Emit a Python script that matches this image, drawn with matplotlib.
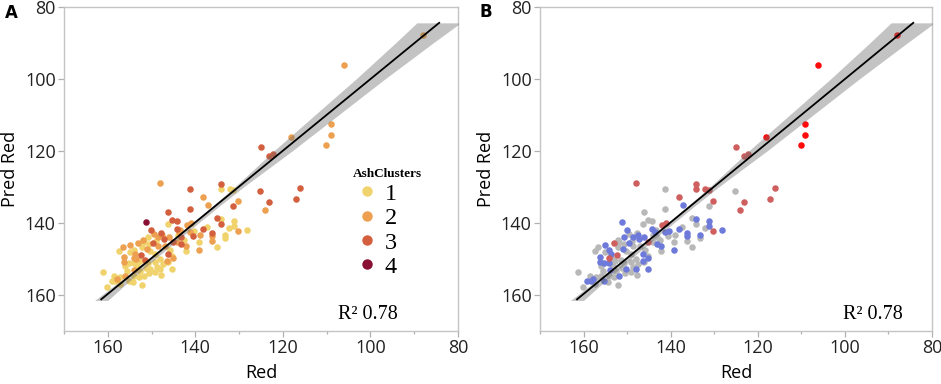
import numpy as np
import matplotlib
matplotlib.use("Agg")
import matplotlib.pyplot as plt
from matplotlib.lines import Line2D

# observed Red vs predicted Red, AshClusters (panel A) and group (panel B)
red = [88.1, 106.1, 109.1, 109.1, 110.1, 118.1, 125.1, 123.1, 122.2, 125.2,
       123.2, 124.1, 116.1, 117.1, 148.0, 141.2, 134.2, 134.2, 132.1, 131.3,
       138.2, 137.1, 130.2, 131.3, 141.2, 146.2, 145.3, 144.3, 146.3, 142.0,
       141.1, 135.1, 134.2, 134.2, 131.2, 131.2, 132.2, 130.2, 128.2, 138.2,
       136.2, 136.2, 133.2, 133.2, 139.2, 136.3, 135.1, 139.2, 140.3, 141.2,
       143.4, 144.3, 143.2, 144.1, 143.2, 142.2, 142.2, 145.2, 151.2, 150.1,
       147.8, 143.7, 149.6, 148.6, 147.6, 147.2, 148.9, 153.1, 151.8, 150.6,
       151.0, 152.2, 154.1, 153.7, 154.1, 152.3, 156.2, 156.2, 155.2, 154.1,
       156.0, 157.4, 146.1, 144.0, 150.3, 149.1, 148.0, 146.4, 145.3, 146.3,
       145.3, 150.3, 148.0, 148.7, 152.6, 151.8, 161.2, 159.1, 158.3, 157.9,
       157.1, 155.2, 152.2, 160.2, 152.9, 154.1, 156.0, 145.1, 146.2, 142.5,
       140.6, 155.0, 153.5, 152.7, 151.5, 150.7, 149.2, 147.5, 155.6, 153.9,
       150.5, 149.2, 147.8, 158.5, 157.3, 154.3, 148.6, 147.0, 145.9, 152.0,
       149.5, 150.8, 155.0, 156.6, 153.3, 151.2, 139.0, 137.4]
pred = [87.8, 96.2, 112.4, 115.5, 118.2, 116.2, 119.0, 121.4, 120.8, 131.2,
        134.2, 136.4, 130.2, 133.2, 129.0, 130.6, 129.3, 130.6, 130.6, 130.7,
        132.8, 134.9, 133.9, 135.4, 136.2, 136.9, 139.1, 139.5, 140.2, 140.5,
        139.9, 138.5, 138.8, 140.4, 139.4, 140.9, 141.3, 142.1, 142.0, 141.7,
        142.9, 143.5, 143.3, 144.2, 145.3, 145.0, 146.8, 147.6, 142.1, 142.4,
        141.9, 141.7, 144.0, 145.4, 145.9, 146.3, 147.7, 145.2, 139.6, 141.9,
        142.9, 142.4, 145.6, 144.0, 143.3, 144.4, 145.0, 145.6, 145.4, 145.8,
        147.2, 146.8, 147.5, 148.6, 149.8, 148.8, 149.5, 150.9, 151.2, 151.2,
        152.0, 147.7, 143.9, 143.3, 147.7, 148.6, 150.0, 150.5, 149.1, 148.6,
        152.8, 152.8, 152.8, 152.3, 153.3, 154.7, 153.7, 156.0, 156.0, 155.6,
        155.1, 156.2, 157.2, 157.7, 155.1, 154.7, 154.7, 149.8, 150.9, 144.6,
        143.6, 148.0, 150.0, 150.6, 150.3, 151.0, 150.8, 151.5, 153.2, 153.0,
        154.0, 153.7, 154.4, 154.6, 157.0, 156.3, 146.4, 146.5, 147.4, 144.6,
        143.0, 143.9, 146.2, 146.8, 152.0, 152.5, 143.2, 141.0]
ash = [2, 2, 2, 2, 2, 2, 3, 3, 3, 3,
       3, 2, 3, 3, 2, 3, 3, 1, 1, 1,
       2, 2, 2, 3, 3, 3, 3, 3, 1, 2,
       2, 3, 1, 3, 1, 1, 1, 2, 1, 3,
       3, 2, 1, 1, 1, 2, 1, 2, 1, 2,
       2, 3, 3, 2, 3, 2, 1, 3, 4, 3,
       3, 2, 3, 2, 2, 3, 1, 2, 1, 1,
       2, 1, 1, 2, 2, 3, 2, 2, 1, 1,
       1, 1, 2, 1, 1, 1, 1, 2, 1, 3,
       1, 1, 1, 1, 1, 1, 1, 1, 1, 2,
       1, 1, 1, 1, 1, 1, 2, 2, 1, 1,
       3, 1, 2, 1, 3, 1, 1, 1, 1, 2,
       1, 1, 1, 1, 1, 1, 2, 2, 1, 2,
       2, 1, 2, 2, 1, 1, 2, 1]
grp = ["R", "R", "R", "R", "R", "R", "r", "r", "r", "g",
       "r", "r", "r", "r", "r", "g", "r", "r", "r", "r",
       "r", "b", "r", "g", "g", "g", "g", "g", "g", "r",
       "r", "g", "b", "g", "b", "b", "g", "r", "b", "b",
       "b", "b", "b", "g", "g", "g", "g", "b", "b", "b",
       "g", "b", "g", "g", "b", "b", "g", "r", "b", "b",
       "g", "b", "b", "b", "b", "b", "g", "r", "g", "g",
       "b", "g", "b", "b", "r", "r", "b", "b", "b", "b",
       "g", "g", "b", "g", "g", "g", "g", "b", "g", "b",
       "b", "b", "b", "g", "g", "b", "g", "b", "b", "b",
       "g", "b", "g", "g", "g", "g", "g", "b", "g", "g",
       "g", "g", "g", "g", "g", "g", "g", "g", "g", "b",
       "g", "g", "g", "g", "g", "g", "g", "g", "g", "g",
       "g", "b", "b", "g", "g", "g", "g", "g"]

# fit line and confidence band (half width in Red units)
fit_red = [161.5, 84.3]
fit_pred = [161.2, 84.4]
band_pred = [161.5, 155, 150, 145, 140, 135, 130, 120, 110, 100, 90, 84.4]
band_half = [1.5, 1.0, 0.8, 0.7, 0.7, 0.8, 1.0, 2.1, 2.7, 3.3, 4.3, 5.0]

ash_colors = {1: "#f0d36c", 2: "#eca050", 3: "#d35f3e", 4: "#8a0f35"}
grp_colors = {"b": "#6e7ad9", "g": "#b8b8b8", "r": "#cf5f5f", "R": "#ff0b0b"}

red = np.array(red)
pred = np.array(pred)
ash = np.array(ash)
grp = np.array(grp)

fig = plt.figure(figsize=(9.41, 3.84), dpi=100)
axA = fig.add_axes([64 / 941, 53 / 384, 394 / 941, 324 / 384])
axB = fig.add_axes([540 / 941, 53 / 384, 392 / 941, 324 / 384])

tick_font = "Open Sans"


def style(ax):
    ax.set_xlim(170, 80)
    ax.set_ylim(170, 80)
    ax.set_xticks([160, 140, 120, 100, 80])
    ax.set_xticks([170, 150, 130, 110, 90], minor=True)
    ax.set_yticks([80, 100, 120, 140, 160])
    for s in ax.spines.values():
        s.set_color("#c4c4c4")
        s.set_linewidth(1.0)
    ax.tick_params(which="major", length=4, width=0.9, color="#b0b0b0",
                   labelsize=13, labelcolor="#222222", pad=2)
    ax.tick_params(which="minor", length=2.5, width=0.9, color="#b0b0b0")
    for lab in ax.get_xticklabels() + ax.get_yticklabels():
        lab.set_fontfamily(tick_font)
    ax.set_xlabel("Red", fontsize=13, family=tick_font, labelpad=5)
    ax.set_ylabel("Pred Red", fontsize=13, family=tick_font, labelpad=4)
    bp = np.array(band_pred)
    bh = np.array(band_half)
    ax.fill_betweenx(bp, bp - bh, bp + bh, color="#6b6b6b", alpha=0.4,
                     lw=0, zorder=3)
    ax.plot(fit_red, fit_pred, color="black", lw=1.3, zorder=4)
    ax.text(0.695, 0.05, "R\u00b2 0.78", transform=ax.transAxes,
            fontsize=14.5, family="Liberation Serif", va="center")


for c in [1, 2, 3, 4]:
    m = ash == c
    axA.scatter(red[m], pred[m], s=22, color=ash_colors[c], lw=0,
                zorder=2, label=str(c))
for g in ["g", "b", "r", "R"]:
    m = grp == g
    axB.scatter(red[m], pred[m], s=22, color=grp_colors[g], lw=0, zorder=2)

style(axA)
style(axB)
axB.texts[0].set_x(0.773)

handles = [Line2D([], [], ls="", marker="o", ms=7.5, mec="none",
                  color=ash_colors[c]) for c in [1, 2, 3, 4]]
leg = axA.legend(handles, ["1", "2", "3", "4"], title="AshClusters",
                 loc="upper left", bbox_to_anchor=(0.69, 0.555), frameon=False,
                 prop={"family": "Liberation Serif", "size": 17.5},
                 title_fontproperties={"family": "Liberation Serif",
                                       "weight": "bold", "size": 9.5},
                 handletextpad=0.1, labelspacing=0.1, handlelength=1.2,
                 borderpad=0.2)
leg._legend_box.align = "left"

fig.text(0.0117, 0.967, "A", fontsize=12, fontweight="bold", ha="center",
         va="center", family="DejaVu Sans")
fig.text(0.5165, 0.970, "B", fontsize=12, fontweight="bold", ha="center",
         va="center", family="DejaVu Sans")

fig.savefig("out.png", dpi=100)
